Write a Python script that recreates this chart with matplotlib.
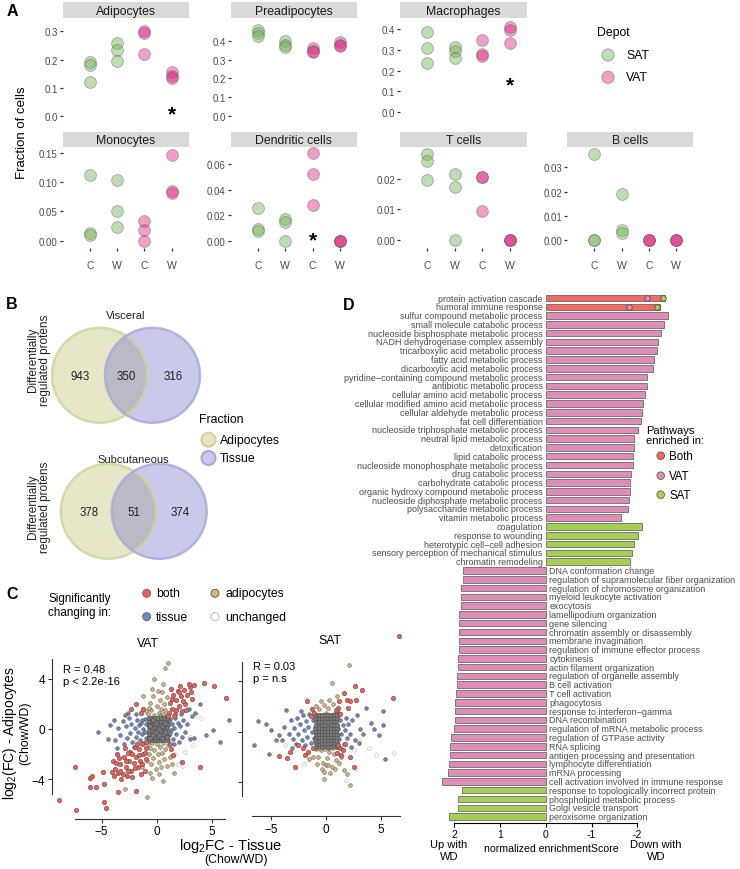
import matplotlib
matplotlib.use('Agg')
import matplotlib.pyplot as plt
from matplotlib.patches import Circle

plt.rcParams['font.family'] = ['Liberation Sans', 'DejaVu Sans']
plt.rcParams['mathtext.fontset'] = 'custom'
plt.rcParams['mathtext.rm'] = 'Liberation Sans'

# ---- Panel A: fraction of cells, groups = SAT C, SAT W, VAT C, VAT W ----
adipocytes = [[0.19, 0.18, 0.12], [0.26, 0.235, 0.195], [0.30, 0.295, 0.22], [0.155, 0.14, 0.135]]
preadipocytes = [[0.46, 0.445, 0.43], [0.40, 0.382, 0.371], [0.364, 0.35, 0.34], [0.395, 0.382, 0.376]]
macrophages = [[0.385, 0.309, 0.237], [0.315, 0.295, 0.263], [0.348, 0.28, 0.27], [0.41, 0.397, 0.333]]
monocytes = [[0.112, 0.013, 0.009], [0.103, 0.05, 0.023], [0.033, 0.018, 0.0], [0.146, 0.085, 0.082]]
dendritic = [[0.026, 0.0092, 0.0078], [0.017, 0.015, 0.0], [0.0685, 0.052, 0.0278], [0.0, 0.0, 0.0]]
t_cells = [[0.0283, 0.0259, 0.0197], [0.0217, 0.0175, 0.0], [0.0208, 0.0206, 0.0094], [0.0, 0.0, 0.0]]
b_cells = [[0.0356, 0.0, 0.0], [0.019, 0.004, 0.003], [0.0, 0.0, 0.0], [0.0, 0.0, 0.0]]
diet_labels = ['C', 'W', 'C', 'W']
stars = {'Adipocytes': (4, 0.02), 'Macrophages': (4, 0.152), 'Dendritic cells': (3, 0.004)}

# ---- Panel B: Venn counts (only adipocytes, shared, only tissue) ----
visceral_counts = [943, 350, 316]
subcut_counts = [378, 51, 374]

# ---- Panel C: log2FC tissue (x) vs adipocytes (y) ----
vat_both = """-8.9,-5.6 -7.3,-6.4 -7.4,-3.0 -6.1,-3.9 -5.9,-3.7 -6.1,-4.6 -5.5,-4.6 -4.8,-4.4 -4.8,-5.8
-4.6,-6.3 -4.9,-3.4 -4.1,-3.4 -3.5,-5.0 -1.9,-4.9 -4.0,-2.5 -3.6,-2.0 -3.8,-3.2 -3.5,-3.5 -3.3,-2.8
-3.1,-3.6 -3.0,-2.2 -2.8,-3.0 -2.7,-3.7 -2.5,-2.5 -2.4,-1.8 -2.3,-3.3 -2.1,-2.7 -2.0,-1.4 -1.9,-2.2
-1.7,-3.0 -1.6,-1.6 -1.5,-2.5 -1.3,-1.2 -1.2,-2.0 -1.1,-3.3 -1.0,-1.5 -2.9,-1.5 -3.2,-4.0 -2.2,-3.8
-1.4,-3.6 -3.7,-2.7 -3.4,-2.3 -2.6,-3.3 -2.2,-2.0 -1.8,-1.2 -1.3,-2.8 -1.1,-1.9 -2.6,-1.9 -3.9,-3.7
-2.0,-3.1 -1.6,-2.1 -2.8,-2.5 -3.3,-3.3 -1.0,-2.4 1.1,1.3 1.2,2.1 1.4,1.6 1.5,2.7 1.7,1.2 1.8,2.3
1.9,3.0 2.0,1.8 2.2,2.6 2.3,1.4 2.5,3.1 2.6,2.0 2.8,2.7 3.0,3.3 3.2,2.4 3.4,3.5 1.3,3.2 2.1,3.4
1.6,1.0 2.4,2.2 2.7,1.5 1.4,2.4 3.1,2.9 2.0,2.9 1.8,1.5 2.9,3.6 4.3,3.65 5.2,3.4 6.3,2.45 3.9,-3.0
-1.9,2.0 -2.3,1.6 -1.4,1.3 1.5,-2.1 1.3,-1.6 2.3,-2.6 1.2,-1.2 -1.2,1.6 1.0,1.0 -0.95,-1.05"""
vat_tissue = """-5.3,-0.2 -4.2,0.3 -3.8,-0.9 -3.5,0.1 -3.3,-0.5 -3.1,0.6 -3.0,-1.2 -2.8,0.2 -2.7,-0.7
-2.5,0.9 -2.4,-0.3 -2.3,0.4 -2.2,-1.0 -2.0,0.1 -1.9,-0.6 -1.8,0.7 -1.7,-0.2 -1.6,0.3 -1.5,-0.9
-1.4,0.5 -1.3,-0.4 -1.2,0.0 -1.1,0.8 -1.0,-0.7 -2.6,1.3 -3.6,-1.5 -2.9,1.1 -1.9,1.2 -4.4,-0.8
-3.9,0.7 -2.1,-1.4 -1.2,-1.1 -1.0,0.4 -1.1,-0.2 -1.3,0.7 1.0,0.3 1.1,-0.5 1.2,0.8 1.3,-0.1 1.4,0.4
1.5,-0.8 1.6,0.1 1.7,0.9 1.8,-0.4 1.9,0.5 2.0,-1.0 2.1,0.2 2.3,-0.6 2.4,0.7 2.6,-0.2 2.8,0.4
3.0,-0.8 3.2,1.0 3.4,-0.7 3.5,1.3 3.9,2.0 4.5,-0.5 5.1,-0.1 5.75,-1.0 6.6,0.7 2.2,1.2 2.9,1.6
1.6,-1.2 1.0,-0.9 1.1,0.6 1.2,-0.3"""
vat_adipo = """1.0,5.2 0.8,4.8 -0.25,4.0 0.6,3.6 -1.2,2.6 -0.8,1.2 -0.6,2.1 -0.5,1.5 -0.3,2.6 -0.2,1.1
0.0,1.8 0.1,3.0 0.2,1.3 0.3,2.3 0.4,1.6 0.5,2.9 0.6,1.2 0.7,2.0 0.8,1.5 -0.7,1.7 0.9,2.5 -0.4,3.2
0.3,1.0 -1.0,1.4 0.95,1.1 -0.8,-1.2 -0.7,-2.0 -0.6,-1.5 -0.5,-2.8 -0.4,-1.1 -0.3,-2.3 -0.2,-1.7
-0.1,-3.2 0.0,-1.2 0.1,-2.0 0.2,-2.6 0.3,-1.4 0.4,-3.0 0.5,-1.9 0.6,-1.1 0.7,-2.4 0.8,-1.6 0.9,-2.9
-0.9,-2.5 -0.6,-3.5 0.2,-3.6 1.2,-2.2 1.6,-3.5 -0.4,-3.9 -0.9,-5.4 -2.9,-4.8 1.0,-1.3 -1.3,-3.0
0.6,-4.1 1.4,-2.8"""
vat_unchanged = "2.8,1.6 3.0,-0.6 3.3,-1.3 2.6,-1.8 1.9,-2.8 3.6,1.1 2.4,-2.9 4.0,0.9 1.7,-2.0 -1.9,-1.0"
vat_core = """-0.72,-0.88 -0.44,-0.86 -0.17,-0.9 0.1,-0.87 0.37,-0.89 0.62,-0.85 0.9,-0.88
-0.7,-0.6 -0.46,-0.63 -0.19,-0.61 0.08,-0.64 0.35,-0.6 0.64,-0.62 0.91,-0.6
-0.73,-0.36 -0.43,-0.38 -0.16,-0.35 0.11,-0.39 0.38,-0.36 0.61,-0.37 0.89,-0.35
-0.71,-0.12 -0.45,-0.1 -0.18,-0.13 0.09,-0.11 0.36,-0.14 0.63,-0.1 0.92,-0.12
-0.72,0.13 -0.44,0.15 -0.17,0.12 0.1,0.14 0.37,0.11 0.62,0.15 0.9,0.13
-0.7,0.38 -0.46,0.36 -0.19,0.39 0.08,0.37 0.35,0.4 0.64,0.36 0.91,0.38
-0.73,0.63 -0.43,0.65 -0.16,0.62 0.11,0.64 0.38,0.61 0.61,0.65 0.89,0.63
-0.71,0.87 -0.45,0.89 -0.18,0.86 0.09,0.88 0.36,0.9 0.63,0.86 0.92,0.88
-0.58,-0.75 -0.31,-0.5 -0.04,-0.25 0.23,0.0 0.5,0.25 0.77,0.5 -0.58,0.25 -0.31,0.75 0.23,-0.5
0.5,-0.75 0.77,-0.25 -0.04,0.5"""

sat_both = """-1.7,2.45 1.6,3.1 2.6,3.6 3.3,3.3 1.9,2.5 2.2,2.4 2.7,2.5 6.1,2.7 -4.3,-1.95 -3.5,-2.1
-2.8,-2.8 -3.3,-1.6 -2.5,-1.1 -1.9,-1.9 1.4,-1.9 2.2,-2.0 2.5,-2.8 1.3,-1.3 1.5,-1.5 -1.3,1.8
-1.1,1.5 -1.4,1.2 1.1,1.9 1.3,1.4 1.2,2.4 0.9,1.7 1.1,-1.1 1.0,-1.7 -1.2,-1.3 -1.6,-1.6 2.0,1.9
6.6,7.6 -2.1,-1.3 1.7,-1.0"""
sat_tissue = """-6.5,-1.1 -6.15,0.8 -5.45,0.6 -5.0,0.1 -5.2,-1.8 -4.3,-0.3 -4.0,-0.7 -4.5,-0.7 -3.6,1.7
-3.8,0.4 -3.4,-0.2 -3.2,0.9 -3.0,-0.6 -2.9,0.3 -2.7,-1.0 -2.6,1.1 -2.5,-0.2 -2.4,0.6 -2.2,-0.7
-2.1,1.3 -2.0,0.1 -1.9,-1.1 -1.8,0.8 -1.7,-0.4 -1.6,0.4 -1.5,1.4 -1.4,-0.9 -1.3,0.0 -1.2,0.9
-1.1,-0.5 -2.3,1.6 -3.1,-1.3 1.1,0.2 1.2,-0.6 1.3,0.9 1.4,-0.2 1.5,0.5 1.6,-1.0 1.7,0.1 1.8,1.1
1.9,-0.5 2.0,0.6 2.2,-0.2 2.4,0.9 2.6,-0.7 2.8,1.3 3.1,0.2 3.4,-0.2 3.6,1.9 4.1,0.7 4.8,-0.3
5.15,1.6 5.2,0.55 5.35,-2.2 2.3,-1.2 3.0,-0.9 4.4,0.2 1.2,1.5"""
sat_adipo = """2.1,5.3 0.5,3.9 1.0,2.8 -0.8,1.3 -0.6,1.8 -0.4,1.2 -0.2,2.1 0.0,1.5 0.2,1.9 0.4,1.2 0.6,2.2
0.8,1.5 -0.9,2.0 0.3,2.5 -0.5,2.4 0.9,1.2 -0.9,-1.4 -0.7,-2.0 -0.5,-1.5 -0.3,-2.5 -0.1,-1.4
0.1,-2.1 0.3,-1.6 0.5,-2.8 0.7,-1.8 0.9,-2.3 -0.8,-2.6 -0.4,-3.0 0.0,-2.7 0.4,-3.3 0.8,-3.0
-0.6,-1.3 0.2,-1.3 0.6,-1.3 2.2,-4.3 1.9,-3.4 1.6,-3.1 -0.15,-3.2 0.2,-2.7 -1.2,-2.0 -1.5,-2.2
1.2,-2.5 -0.2,-3.8 1.4,-2.0"""
sat_unchanged = "6.2,-1.7 -3.7,-1.05 3.0,-0.7 2.5,-1.5 3.9,-1.3 -2.0,-2.6 2.7,-3.0 4.5,-1.9 -1.8,2.6 1.8,-3.9"
sat_core = """-0.95,-1.2 -0.66,-1.18 -0.38,-1.21 -0.1,-1.19 0.18,-1.2 0.46,-1.22 0.72,-1.18 0.96,-1.2
-0.93,-0.95 -0.68,-0.96 -0.4,-0.93 -0.12,-0.95 0.16,-0.97 0.44,-0.94 0.74,-0.95 0.97,-0.93
-0.96,-0.7 -0.67,-0.72 -0.39,-0.69 -0.11,-0.71 0.17,-0.7 0.45,-0.68 0.73,-0.71 0.95,-0.7
-0.94,-0.45 -0.66,-0.43 -0.38,-0.46 -0.1,-0.44 0.18,-0.45 0.46,-0.47 0.72,-0.44 0.97,-0.45
-0.95,-0.2 -0.68,-0.21 -0.4,-0.19 -0.12,-0.2 0.16,-0.18 0.44,-0.2 0.74,-0.22 0.96,-0.19
-0.93,0.05 -0.67,0.06 -0.39,0.04 -0.11,0.05 0.17,0.07 0.45,0.05 0.73,0.04 0.95,0.06
-0.96,0.3 -0.66,0.28 -0.38,0.31 -0.1,0.29 0.18,0.3 0.46,0.32 0.72,0.29 0.97,0.3
-0.94,0.55 -0.68,0.56 -0.4,0.54 -0.12,0.55 0.16,0.57 0.44,0.55 0.74,0.53 0.96,0.55
-0.95,0.8 -0.67,0.79 -0.39,0.81 -0.11,0.8 0.17,0.78 0.45,0.8 0.73,0.82 0.95,0.8
-0.93,1.05 -0.66,1.06 -0.38,1.04 -0.1,1.05 0.18,1.07 0.46,1.05 0.72,1.04 0.97,1.05
-0.96,1.3 -0.68,1.28 -0.4,1.31 -0.12,1.3 0.16,1.29 0.44,1.31 0.74,1.3 0.96,1.28"""

# ---- Panel D: GSEA normalized enrichment scores ----
d_terms = [
    'protein activation cascade', 'humoral immune response', 'sulfur compound metabolic process',
    'small molecule catabolic process', 'nucleoside bisphosphate metabolic process',
    'NADH dehydrogenase complex assembly', 'tricarboxylic acid metabolic process',
    'fatty acid metabolic process', 'dicarboxylic acid metabolic process',
    'pyridine\u2212containing compound metabolic process', 'antibiotic metabolic process',
    'cellular amino acid metabolic process', 'cellular modified amino acid metabolic process',
    'cellular aldehyde metabolic process', 'fat cell differentiation',
    'nucleoside triphosphate metabolic process', 'neutral lipid metabolic process',
    'detoxification', 'lipid catabolic process', 'nucleoside monophosphate metabolic process',
    'drug catabolic process', 'carbohydrate catabolic process',
    'organic hydroxy compound metabolic process', 'nucleoside diphosphate metabolic process',
    'polysaccharide metabolic process', 'vitamin metabolic process',
    'coagulation', 'response to wounding', 'heterotypic cell\u2212cell adhesion',
    'sensory perception of mechanical stimulus', 'chromatin remodeling',
    'DNA conformation change', 'regulation of supramolecular fiber organization',
    'regulation of chromosome organization', 'myeloid leukocyte activation', 'exocytosis',
    'lamellipodium organization', 'gene silencing', 'chromatin assembly or disassembly',
    'membrane invagination', 'regulation of immune effector process', 'cytokinesis',
    'actin filament organization', 'regulation of organelle assembly', 'B cell activation',
    'T cell activation', 'phagocytosis', 'response to interferon\u2212gamma', 'DNA recombination',
    'regulation of mRNA metabolic process', 'regulation of GTPase activity', 'RNA splicing',
    'antigen processing and presentation', 'lymphocyte differentiation', 'mRNA processing',
    'cell activation involved in immune response', 'response to topologically incorrect protein',
    'phospholipid metabolic process', 'Golgi vesicle transport', 'peroxisome organization']
d_nes = [-2.60, -2.50, -2.67, -2.58, -2.51, -2.45, -2.44, -2.37, -2.35, -2.22, -2.21, -2.17,
         -2.13, -2.10, -2.07, -2.02, -1.93, -1.92, -1.91, -1.91, -1.86, -1.84, -1.83, -1.81,
         -1.79, -1.64, -2.10, -2.02, -1.93, -1.89, -1.84,
         1.80, 1.80, 1.84, 1.86, 1.86, 1.89, 1.89, 1.89, 1.89, 1.89, 1.91, 1.91, 1.93, 1.94,
         1.95, 1.97, 1.97, 1.97, 2.00, 2.07, 2.08, 2.08, 2.12, 2.14, 2.26,
         1.83, 1.92, 1.92, 2.12]
d_group = ['Both'] * 2 + ['VAT'] * 24 + ['SAT'] * 5 + ['VAT'] * 25 + ['SAT'] * 4
both_vat_nes = [-2.22, -1.81]
both_sat_nes = [-2.57, -2.44]

SAT_COL, VAT_COL = '#71B45B', '#DE2C85'
C_BOTH, C_TISSUE, C_ADIPO = '#E8605A', '#6F86BF', '#D8B57A'
D_COL = {'Both': '#F26B63', 'VAT': '#DE8DB8', 'SAT': '#A6CE55'}

W, H = 740, 870


def box(x0, y0, x1, y1):
    return [x0 / W, 1 - y1 / H, (x1 - x0) / W, (y1 - y0) / H]


def parse(s):
    pts = [p.split(',') for p in s.split()]
    return [float(p[0]) for p in pts], [float(p[1]) for p in pts]


fig = plt.figure(figsize=(7.4, 8.7), dpi=100)

# Panel A --------------------------------------------------------------
cols = [(62.5, 188.5), (230.5, 357), (400, 526.5), (567, 693)]
rows = [(19, 121), (148, 249)]
strips = [(3, 19), (133, 148)]
facets = [
    ('Adipocytes', adipocytes, 0, 0, (-0.0153, 0.3477), [0, 0.1, 0.2, 0.3], '%.1f'),
    ('Preadipocytes', preadipocytes, 0, 1, (-0.0231, 0.525), [0, 0.1, 0.2, 0.3, 0.4], '%.1f'),
    ('Macrophages', macrophages, 0, 2, (-0.037, 0.453), [0, 0.1, 0.2, 0.3, 0.4], '%.1f'),
    ('Monocytes', monocytes, 1, 0, (-0.0124, 0.1594), [0, 0.05, 0.10, 0.15], '%.2f'),
    ('Dendritic cells', dendritic, 1, 1, (-0.0057, 0.0735), [0, 0.02, 0.04, 0.06], '%.2f'),
    ('T cells', t_cells, 1, 2, (-0.0027, 0.0306), [0, 0.01, 0.02], '%.2f'),
    ('B cells', b_cells, 1, 3, (-0.0034, 0.0385), [0, 0.01, 0.02, 0.03], '%.2f'),
]
for name, vals, r, c, ylim, ticks, fmt in facets:
    ax = fig.add_axes(box(cols[c][0], rows[r][0], cols[c][1], rows[r][1]))
    for gi, grp in enumerate(vals):
        ax.scatter([gi + 1] * len(grp), grp, s=72, color=SAT_COL if gi < 2 else VAT_COL,
                   alpha=0.45, edgecolors='#555555', linewidths=0.6, zorder=3, clip_on=False)
    ax.set_xlim(0.0, 4.62)
    ax.set_ylim(ylim)
    for s in ax.spines.values():
        s.set_visible(False)
    ax.set_yticks(ticks)
    ax.set_yticklabels([fmt % t for t in ticks])
    ax.tick_params(axis='y', length=2.5, width=0.9, color='#333333', labelsize=7,
                   labelcolor='#4D4D4D', pad=1)
    if r == 1:
        ax.set_xticks([1, 2, 3, 4])
        ax.set_xticklabels(diet_labels)
        ax.tick_params(axis='x', length=2.5, width=0.9, color='#333333', labelsize=7.5,
                       labelcolor='#4D4D4D', pad=6)
    else:
        ax.set_xticks([])
    if name in stars:
        ax.annotate('*', stars[name], xytext=(0, -3), textcoords='offset points',
                    ha='center', va='center', fontsize=15, fontweight='bold')
    sax = fig.add_axes(box(cols[c][0], strips[r][0], cols[c][1], strips[r][1]))
    sax.set_facecolor('#D9D9D9')
    sax.set_xticks([])
    sax.set_yticks([])
    for s in sax.spines.values():
        s.set_visible(False)
    sax.text(0.5, 0.45, name, ha='center', va='center', fontsize=8.8, color='#1A1A1A',
             transform=sax.transAxes)

# Panel C --------------------------------------------------------------
def scatter_panel(rect, xlim, ylim, lpos, lb, bpos, bb, data, ylabels):
    ax = fig.add_axes(box(*rect))
    ax.patch.set_alpha(0)
    unch, core, tis, adi, both = [parse(d) for d in data]
    ax.scatter(*unch, s=7, color='white', edgecolors='#BBBBBB', linewidths=0.4, zorder=2)
    ax.scatter(*tis, s=7, color=C_TISSUE, edgecolors='#303030', linewidths=0.3, zorder=3)
    ax.scatter(*adi, s=7, color=C_ADIPO, edgecolors='#303030', linewidths=0.3, zorder=3)
    ax.scatter(*core, s=11, color='#7A7A7A', edgecolors='#4A4A4A', linewidths=0.35, zorder=3)
    ax.scatter(*both, s=11, color=C_BOTH, edgecolors='#404040', linewidths=0.3, zorder=4)
    ax.set_xlim(xlim)
    ax.set_ylim(ylim)
    ax.spines['top'].set_visible(False)
    ax.spines['right'].set_visible(False)
    ax.spines['left'].set_position(('data', lpos))
    ax.spines['left'].set_bounds(*lb)
    ax.spines['bottom'].set_position(('data', bpos))
    ax.spines['bottom'].set_bounds(*bb)
    for s in ('left', 'bottom'):
        ax.spines[s].set_linewidth(0.8)
        ax.spines[s].set_color('#333333')
    ax.set_xticks([-5, 0, 5])
    ax.set_yticks([-4, 0, 4])
    if not ylabels:
        ax.set_yticklabels([])
    ax.tick_params(length=3, width=0.8, color='#333333', labelsize=8.5, pad=1.5)
    return ax


scatter_panel((48, 655, 232, 822), (-9.88, 6.85), (-7.30, 5.95), -9.55, (-5.16, 5.56),
              -7.14, (-7.43, 6.25),
              [vat_unchanged, vat_core, vat_tissue, vat_adipo, vat_both], True)
scatter_panel((236, 630, 405, 822), (-8.18, 7.18), (-7.13, 8.17), -7.61, (-5.12, 5.51),
              -6.76, (-6.7, 6.73),
              [sat_unchanged, sat_core, sat_tissue, sat_adipo, sat_both], False)

# Panel D --------------------------------------------------------------
dax = fig.add_axes(box(430, 294, 690, 824))
dax.patch.set_alpha(0)
idx = list(range(len(d_terms)))
dax.barh(idx, d_nes, height=0.74, color=[D_COL[g] for g in d_group],
         edgecolor='#555555', linewidth=0.5)
dax.scatter(both_vat_nes, [0, 1], s=16, color=D_COL['VAT'], edgecolors='#444444',
            linewidths=0.5, zorder=4)
dax.scatter(both_sat_nes, [0, 1], s=16, color=D_COL['SAT'], edgecolors='#444444',
            linewidths=0.5, zorder=4)
for i, (t, v) in enumerate(zip(d_terms, d_nes)):
    if v < 0:
        dax.text(0.07, i, t, ha='right', va='center', fontsize=6.5, color='#4D4D4D')
    else:
        dax.text(-0.08, i, t, ha='left', va='center', fontsize=6.5, color='#4D4D4D')
dax.set_xlim(2.526, -3.15)
dax.set_ylim(59.73, -0.57)
for s in ('top', 'right', 'left'):
    dax.spines[s].set_visible(False)
dax.spines['bottom'].set_bounds(-2, 2)
dax.spines['bottom'].set_linewidth(0.8)
dax.set_yticks([])
dax.set_xticks([2, 1, 0, -1, -2])
dax.set_xticklabels(['2', '1', '0', '-1', '-2'])
dax.tick_params(axis='x', length=3, width=0.8, labelsize=7.5, pad=1.5)

# Overlay: labels, legends, Venn diagrams -------------------------------
ov = fig.add_axes([0, 0, 1, 1])
ov.set_xlim(0, W)
ov.set_ylim(H, 0)
ov.axis('off')

for lab, x, y in [('A', 12, 11), ('B', 12, 305), ('C', 12, 595), ('D', 349, 306)]:
    ov.text(x, y, lab, fontsize=11.5, fontweight='bold', ha='center', va='center')

ov.text(22, 133, 'Fraction of cells', rotation=90, ha='center', va='center', fontsize=9.5)
ov.text(597, 33, 'Depot', fontsize=8.8, va='center')
ov.scatter([608, 608], [56, 78.3], s=80, color=[SAT_COL, VAT_COL], alpha=0.45,
           edgecolors='#555555', linewidths=0.6)
ov.text(626, 56, 'SAT', fontsize=8.8, va='center')
ov.text(626, 78.3, 'VAT', fontsize=8.8, va='center')

# Venn
A_FILL, A_EDGE, T_FILL, T_EDGE = '#C2C272', '#D2D29C', '#7878C8', '#A8A8D8'
for counts, cy, lx, rx, title, ty, yl in [
        (visceral_counts, 376.3, 99.5, 152.5, 'Visceral', 316, 360),
        (subcut_counts, 512.3, 108.3, 159.2, 'Subcutaneous', 460, 507)]:
    ov.add_patch(Circle((lx, cy), 47.5, facecolor=A_FILL, alpha=0.4, edgecolor='none'))
    ov.add_patch(Circle((rx, cy), 47.5, facecolor=T_FILL, alpha=0.4, edgecolor='none'))
    ov.add_patch(Circle((lx, cy), 47.5, facecolor='none', edgecolor=A_EDGE, lw=1.8, alpha=0.8))
    ov.add_patch(Circle((rx, cy), 47.5, facecolor='none', edgecolor=T_EDGE, lw=1.8, alpha=0.8))
    mid = (lx + rx) / 2
    for val, x in zip(counts, [lx - 19, mid, rx + 21]):
        ov.text(x, cy + 1, str(val), ha='center', va='center', fontsize=8.3, color='#222222')
    ov.text(mid, ty, title, ha='center', va='center', fontsize=8, color='#222222')
    ov.text(39, yl, 'Differentially\nregulated protens', rotation=90, ha='center',
            va='center', fontsize=8.5, linespacing=1.0, color='#222222')

ov.text(199, 420, 'Fraction', fontsize=8.8, va='center')
for y, fc, ec, lab in [(440.7, A_FILL, A_EDGE, 'Adipocytes'), (459, T_FILL, T_EDGE, 'Tissue')]:
    ov.add_patch(Circle((208.5, y), 7, facecolor=fc, alpha=0.4, edgecolor='none'))
    ov.add_patch(Circle((208.5, y), 7, facecolor='none', edgecolor=ec, lw=1.5))
    ov.text(220, y, lab, fontsize=8.8, va='center')

# Panel C legend and labels
ov.text(80, 606, 'Significantly\nchanging in:', ha='center', va='center', fontsize=8.4,
        linespacing=1.15)
ov.scatter([146.7, 146.7], [594.3, 617.7], s=34, color=[C_BOTH, C_TISSUE],
           edgecolors='#404040', linewidths=0.4)
ov.scatter([215, 215], [594.3, 617.7], s=34, color=[C_ADIPO, 'white'],
           edgecolors=['#404040', '#AAAAAA'], linewidths=0.5)
ov.text(156, 594.3, 'both', fontsize=8.8, va='center')
ov.text(156, 617.7, 'tissue', fontsize=8.8, va='center')
ov.text(225, 594.3, 'adipocytes', fontsize=8.8, va='center')
ov.text(225, 617.7, 'unchanged', fontsize=8.8, va='center')
ov.text(148.3, 644, 'VAT', ha='center', va='center', fontsize=8.8)
ov.text(330, 641, 'SAT', ha='center', va='center', fontsize=8.8)
ov.text(63, 665, 'R = 0.48\np < 2.2e-16', va='top', fontsize=8, linespacing=1.3)
ov.text(253, 662, 'R = 0.03\np = n.s', va='top', fontsize=8, linespacing=1.3)
ov.text(230, 846, r'log$_\mathregular{2}$FC - Tissue', ha='center', va='center', fontsize=10.5)
ov.text(236, 860, '(Chow/WD)', ha='center', va='center', fontsize=8.8)
ov.text(10, 733, r'log$_\mathregular{2}$(FC) - Adipocytes', rotation=90, ha='center',
        va='center', fontsize=10)
ov.text(25, 733, '(Chow/WD)', rotation=90, ha='center', va='center', fontsize=8.8)

# Panel D legend and axis labels
ov.text(646, 436, 'Pathways\nenriched in:', va='center', fontsize=8, linespacing=1.1)
ov.scatter([660.7] * 3, [456.7, 476.7, 495.7], s=30,
           color=[D_COL['Both'], D_COL['VAT'], D_COL['SAT']],
           edgecolors='#444444', linewidths=0.5)
for y, lab in zip([456.7, 476.7, 495.7], ['Both', 'VAT', 'SAT']):
    ov.text(669, y, lab, fontsize=8.3, va='center')
ov.text(449, 851, 'Up with\nWD', ha='center', va='center', fontsize=8, linespacing=1.2)
ov.text(551, 849, 'normalized enrichmentScore', ha='center', va='center', fontsize=7.6)
ov.text(656, 851, 'Down with\nWD', ha='center', va='center', fontsize=8, linespacing=1.2)

fig.savefig('out.png', dpi=100)
